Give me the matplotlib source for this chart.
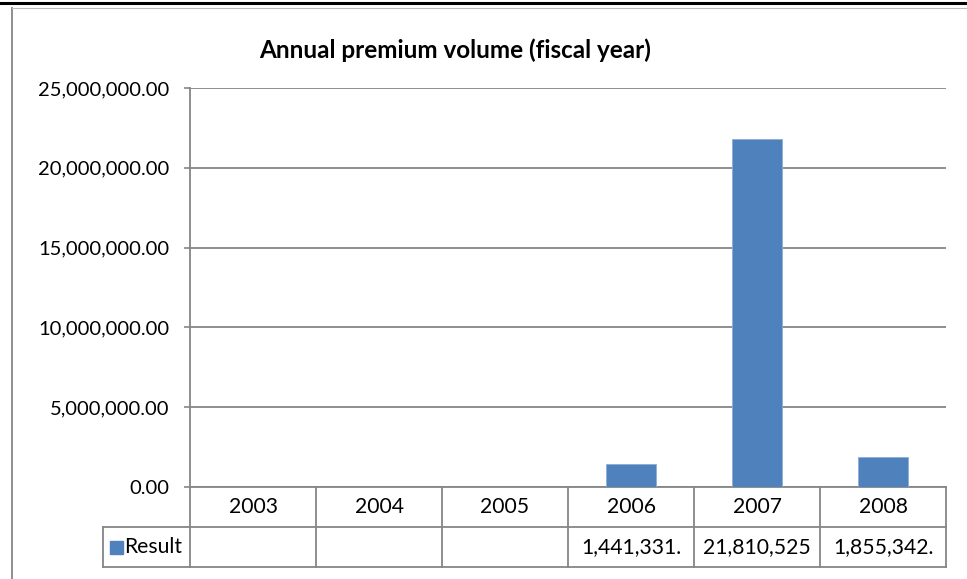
import matplotlib
matplotlib.use("Agg")
import matplotlib.pyplot as plt
from matplotlib.lines import Line2D
from matplotlib.patches import Rectangle
from matplotlib.ticker import FuncFormatter

years = ["2003", "2004", "2005", "2006", "2007", "2008"]
values = [0, 0, 0, 1441331.00, 21810525.00, 1855342.00]
series_name = "Result"
title = "Annual premium volume (fiscal year)"
yticks = [0, 5000000, 10000000, 15000000, 20000000, 25000000]

BAR = "#4F81BD"
GRID = "#868686"
FONT = "Lato"
TS = 15.2

fig = plt.figure(figsize=(9.67, 5.79), dpi=100)
W, H = 967, 579
x0, x1, ytop, ybot = 190, 946, 88, 487
ax = fig.add_axes([x0 / W, 1 - ybot / H, (x1 - x0) / W, (ybot - ytop) / H])

xs = list(range(len(years)))
ax.bar(xs, values, width=0.4, color=BAR, edgecolor="#8EACD6", linewidth=0.6, zorder=3)
ax.set_xlim(-0.5, len(years) - 0.5)
ax.set_ylim(0, 25000000)
ax.set_yticks(yticks)
ax.yaxis.set_major_formatter(FuncFormatter(lambda v, p: f"{v:,.2f}"))
ax.tick_params(axis="y", length=4, width=1.2, color=GRID, pad=11, labelsize=14.5)
for lab in ax.get_yticklabels():
    lab.set_family(FONT)
ax.set_xticks([])
ax.grid(axis="y", color=GRID, linewidth=1.3, zorder=0)
for s in ["top", "right"]:
    ax.spines[s].set_visible(False)
ax.spines["left"].set_color(GRID)
ax.spines["left"].set_linewidth(1.3)
ax.spines["bottom"].set_color(GRID)
ax.spines["bottom"].set_linewidth(1.3)

# data table under the axes
tr = ax.get_xaxis_transform()  # x in data, y in axes fraction
row_h = 40 / (ybot - ytop)
edges_x = [i - 0.5 for i in range(len(years) + 1)]
for k in (1, 2):
    ax.add_line(Line2D([-0.5, len(years) - 0.5], [-k * row_h, -k * row_h], transform=tr, color=GRID, lw=1.3, clip_on=False))
for ex in edges_x:
    ax.add_line(Line2D([ex, ex], [0, -2 * row_h], transform=tr, color=GRID, lw=1.3, clip_on=False))
# legend cell
unit = (x1 - x0) / len(years)
lx = -0.5 - (x0 - 103) / unit
for k in (1, 2):
    ax.add_line(Line2D([lx, -0.5], [-k * row_h, -k * row_h], transform=tr, color=GRID, lw=1.3, clip_on=False))
ax.add_line(Line2D([lx, lx], [-row_h, -2 * row_h], transform=tr, color=GRID, lw=1.3, clip_on=False))

for i, y in enumerate(years):
    ax.text(i, -row_h / 2, y, transform=tr, ha="center", va="center", fontsize=TS, family=FONT, clip_on=False)
    if values[i]:
        label = f"{values[i]:,.2f}"[:10]
        ax.text(i, -1.5 * row_h, label, transform=tr, ha="center", va="center", fontsize=TS, family=FONT, clip_on=False)

ph = 1.0 / (ybot - ytop)
ax.add_patch(Rectangle((lx + 7 / unit, -1.5 * row_h - 6.5 * ph), 13 / unit, 13 * ph, transform=tr,
                       color=BAR, clip_on=False))
ax.text(lx + 21 / unit, -1.5 * row_h, series_name, transform=tr, ha="left", va="center", fontsize=TS,
        family=FONT, clip_on=False)

fig.text(455 / W, 1 - 50 / H, title, ha="center", va="center", fontsize=17.5, fontweight="bold", family=FONT)

# chart border pieces
fig.add_artist(Line2D([0, 1], [1 - 2.5 / H, 1 - 2.5 / H], color="black", lw=2.2))
fig.add_artist(Line2D([12 / W, 12 / W], [0, 1 - 8 / H], color=GRID, lw=1.3))
fig.add_artist(Line2D([12 / W, 1], [1 - 8 / H, 1 - 8 / H], color="#BBBBBB", lw=0.8))

fig.savefig("out.png", dpi=100)
